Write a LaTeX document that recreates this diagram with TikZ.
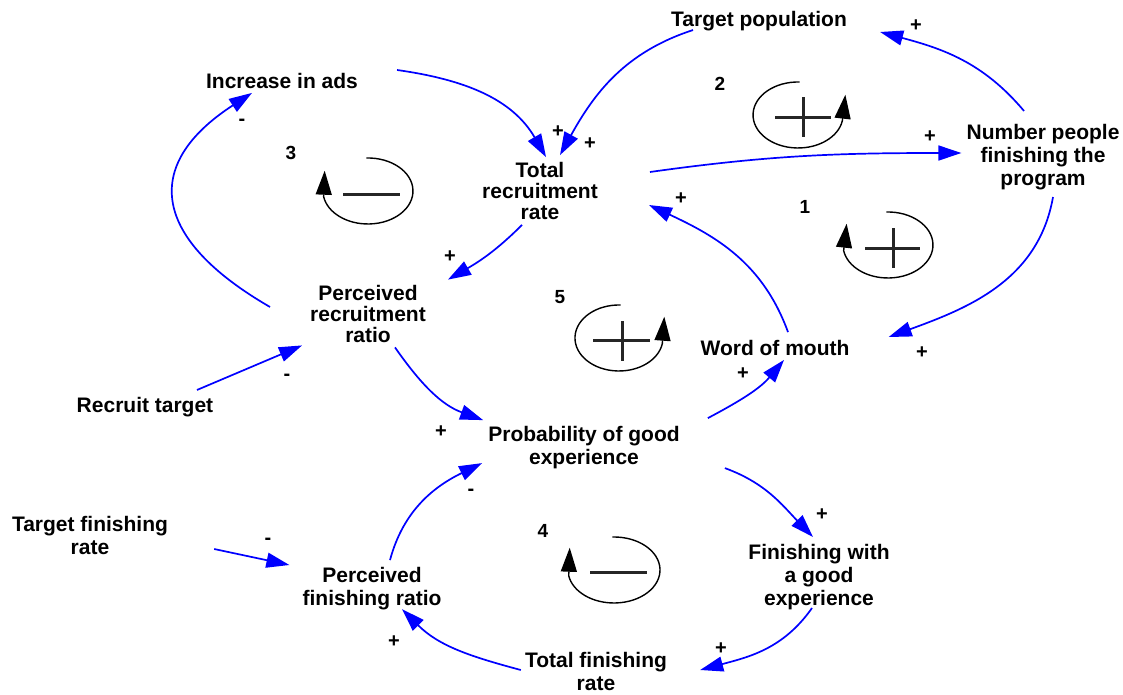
\documentclass[tikz,border=0pt]{standalone}
\usepackage{fontspec}
\setmainfont{Liberation Sans}
\usetikzlibrary{arrows.meta}
\usetikzlibrary{calc}

\tikzset{
  var/.style={font=\fontsize{21}{23}\selectfont\bfseries, align=center, inner sep=3pt},
  link/.style={draw={rgb,255:red,0;green,0;blue,255}, line width=1.7pt, -{Triangle[length=23pt,width=15pt]}},
  pol/.style={font=\fontsize{20}{20}\selectfont\bfseries, inner sep=0pt},
  loopnum/.style={font=\fontsize{19}{19}\selectfont\bfseries, inner sep=0pt},
  looptip/.style={black, line width=1.4pt, -{Triangle[length=24pt,width=16pt]}},
  loopsign/.style={black!85, line width=3pt},
}

\begin{document}
\begin{tikzpicture}[x=1pt, y=1pt]
            \useasboundingbox (0,0) rectangle (1123,-694);

            % variables
            \node[var] (pop) at (759,-21) {Target population};
            \node[var] (ads) at (282,-81) {Increase in ads};
            \node[var, font=\fontsize{21}{21}\selectfont\bfseries] (tot) at (540,-191) {Total\\recruitment\\rate};
            \node[var] (num) at (1043,-157) {Number people\\finishing the\\program};
            \node[var, font=\fontsize{21}{21}\selectfont\bfseries] (per) at (368,-313.5) {Perceived\\recruitment\\ratio};
            \node[var] (wom) at (775,-348) {Word of mouth};
            \node[var] (rt) at (145,-407) {Recruit target};
            \node[var] (prob) at (584,-447.6) {Probability of good\\experience};
            \node[var] (tfr) at (90,-535.5) {Target finishing\\rate};
            \node[var] (pfr) at (372,-588.6) {Perceived\\finishing ratio};
            \node[var] (fwg) at (819,-577) {Finishing with\\a good\\experience};
            \node[var] (tfin) at (596,-671.5) {Total finishing\\rate};

            % causal links
            \draw[link] ($(ads.east)+(36,11)$) to[out=-8, in=120] ($(tot.north)+(6,2)$);
            \draw[link] ($(pop.south)+(-66,4)$) to[out=198, in=61] ($(tot.north)+(20,4)$);
            \draw[link] ($(tot.east)+(49,19)$) to[out=8, in=180] ($(num.west)+(-2,4)$);
            \draw[link] ($(num.north)+(-19,10)$) to[out=130, in=-15] ($(pop.east)+(30,-11)$);
            \draw[link] ($(num.south)+(10,-4)$) to[out=-100, in=20] ($(wom.east)+(36,11)$);
            \draw[link] ($(wom.north)+(13,5)$) to[out=110, in=-25] ($(tot.east)+(48,-14)$);
            \draw[link] ($(tot.south)+(-18,-2)$) to[out=-135, in=30] ($(per.north east)+(19,2)$);
            \draw[link] ($(per.west)+(-37,6.5)$) to[out=150, in=-147, looseness=1.6] ($(ads.south)+(-30,-1)$);
            \draw[link] ($(rt.north)+(52,4)$) -- ($(per.south west)+(-5,0)$);
            \draw[link] ($(per.south)+(27,-2)$) to[out=-55, in=160] ($(prob.north west)+(-2,3)$);
            \draw[link] ($(prob.north east)+(25,5)$) to[out=28, in=-130] ($(wom.south)+(9,-1)$);
            \draw[link] ($(prob.south east)+(42,4)$) to[out=-20, in=134] ($(fwg.north)+(-6,4)$);
            \draw[link] ($(fwg.south)+(-7,5)$) to[out=-125, in=15] ($(tfin.east)+(30,1.5)$);
            \draw[link] ($(tfin.west)+(-1,1.5)$) to[out=165, in=-45] ($(pfr.south)+(30,4)$);
            \draw[link] ($(pfr.north)+(18,4)$) to[out=75, in=-154] ($(prob.south west)+(-3,9)$);
            \draw[link] ($(tfr.east)+(43,-13.5)$) -- ($(pfr.west)+(-10,23.6)$);

            % polarities
            \node[pol] (s1) at (558,-132) {+};
            \node[pol] (s2) at (590,-144) {+};
            \node[pol] (s3) at (916,-26) {+};
            \node[pol] (s4) at (930,-137) {+};
            \node[pol] (s5) at (681,-199) {+};
            \node[pol] (s6) at (450,-257) {+};
            \node[pol] (s7) at (242,-122) {-};
            \node[pol] (s8) at (287,-377) {-};
            \node[pol] (s9) at (743,-374) {+};
            \node[pol] (s10) at (922,-353) {+};
            \node[pol] (s11) at (441,-432) {+};
            \node[pol] (s12) at (471,-492) {-};
            \node[pol] (s13) at (822,-515) {+};
            \node[pol] (s14) at (268,-541) {-};
            \node[pol] (s15) at (721,-649) {+};
            \node[pol] (s16) at (394,-642) {+};

            % loops
            \node[loopnum] (l1) at (805,-207) {1};
            \node[loopnum] (l2) at (720,-84) {2};
            \node[loopnum] (l3) at (291,-153) {3};
            \node[loopnum] (l4) at (543,-531) {4};
            \node[loopnum] (l5) at (560,-297) {5};

            \draw[looptip] (886.4,-212) arc[start angle=92, end angle=-170, x radius=45pt, y radius=33pt] -- ++(3,27);
            \draw[loopsign] (865,-248) -- (920,-248) (893,-228) -- (893,-268);

            \draw[looptip] (799.6,-82) arc[start angle=88, end angle=350, x radius=45pt, y radius=33pt] -- ++(3,26);
            \draw[loopsign] (775,-117) -- (831,-117) (803,-97) -- (803,-137);

            \draw[looptip] (366.4,-158) arc[start angle=92, end angle=-170, x radius=45pt, y radius=33pt] -- ++(1,26);
            \draw[loopsign] (343,-194) -- (400,-194);

            \draw[looptip] (612.4,-537) arc[start angle=92, end angle=-170, x radius=46pt, y radius=33pt] -- ++(1,28);
            \draw[loopsign] (590,-572) -- (647,-572);

            \draw[looptip] (620.5,-305) arc[start angle=88, end angle=350, x radius=44pt, y radius=33pt] -- ++(2,27);
            \draw[loopsign] (593,-340) -- (650,-340) (622,-321) -- (622,-361);
        \end{tikzpicture}
\end{document}
